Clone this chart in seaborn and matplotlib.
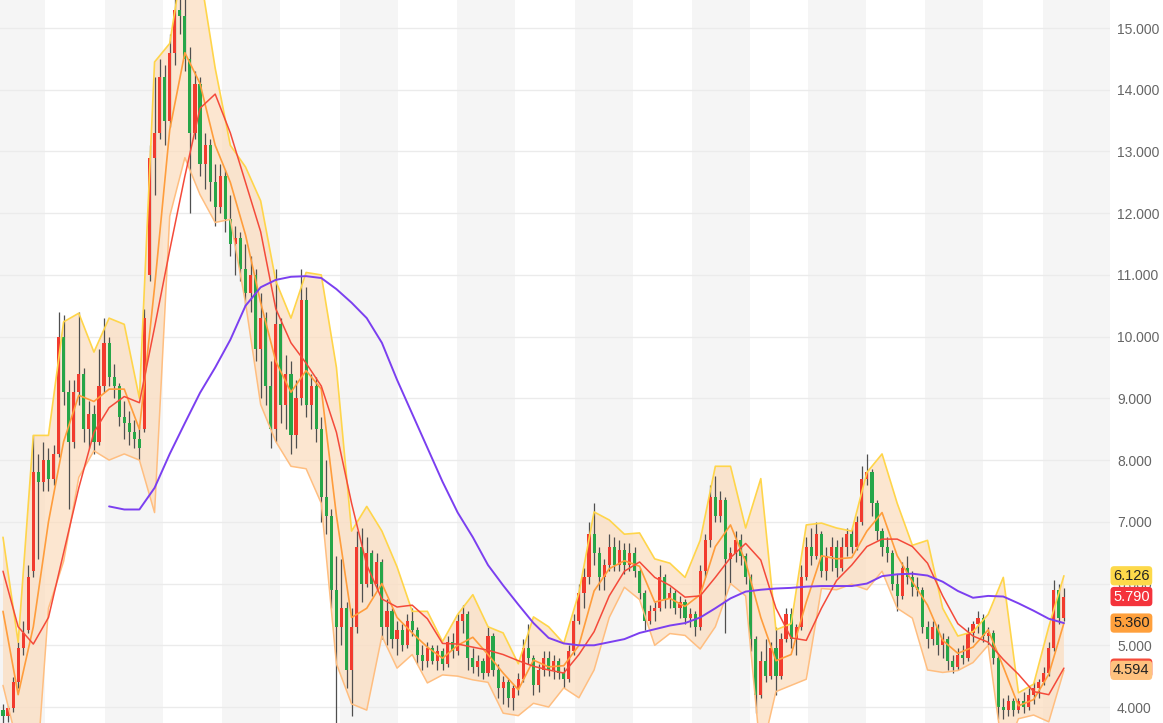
import numpy as np
import pandas as pd
import matplotlib
matplotlib.use("Agg")
import matplotlib.pyplot as plt
import seaborn as sns

# Daily candles from left to right
opens = [3.95, 3.85, 3.98, 4.40, 4.95, 5.25, 6.20, 7.80, 7.65, 8.00, 7.70, 8.10, 10.00, 9.10, 8.30, 9.10, 9.40, 8.50, 8.75, 8.30,
         9.20, 9.90, 9.35, 9.20, 8.70, 8.60, 8.45, 8.35, 8.50, 11.00, 12.90, 13.30, 14.20, 13.50, 14.60, 15.30, 15.20, 14.50, 13.30, 14.10,
         12.80, 13.10, 12.50, 12.10, 12.60, 11.90, 11.50, 11.60, 11.10, 10.70, 11.00, 9.80, 10.30, 9.20, 8.50, 10.20, 8.90, 9.40, 8.40, 9.00,
         10.60, 8.90, 9.20, 8.50, 7.40, 7.10, 5.90, 5.30, 5.60, 4.60, 5.30, 6.60, 6.00, 6.50, 6.00, 6.35, 5.30, 5.55, 5.10, 5.25,
         5.00, 5.40, 5.25, 4.85, 4.75, 4.95, 4.75, 4.90, 4.70, 5.05, 4.90, 5.40, 5.50, 4.80, 4.65, 4.75, 4.55, 5.15, 4.60, 4.30,
         4.40, 4.15, 4.30, 4.45, 4.95, 4.80, 4.35, 4.60, 4.80, 4.60, 4.75, 4.55, 4.45, 4.90, 5.40, 5.85, 6.10, 6.80, 6.50, 6.10,
         6.30, 6.60, 6.30, 6.55, 6.30, 6.50, 6.20, 5.85, 5.40, 5.55, 5.60, 6.10, 5.75, 5.85, 5.60, 5.70, 5.45, 5.50, 5.30, 6.20,
         6.70, 7.40, 7.10, 7.35, 6.40, 6.50, 6.70, 6.45, 6.10, 5.10, 4.20, 4.75, 4.50, 4.95, 4.50, 5.10, 5.50, 5.10, 5.30, 6.10,
         6.60, 6.45, 6.80, 6.20, 6.45, 6.60, 6.25, 6.60, 6.80, 6.60, 7.00, 7.70, 7.80, 7.30, 6.85, 6.60, 6.50, 6.00, 5.80, 6.25,
         6.10, 5.95, 5.90, 5.30, 5.10, 5.30, 5.00, 5.10, 4.75, 4.65, 4.85, 4.80, 5.20, 5.35, 5.45, 5.15, 5.20, 4.80, 4.00, 3.95,
         4.10, 3.95, 4.10, 4.00, 4.20, 4.30, 4.40, 4.55, 4.95, 5.90, 5.45]
highs = [4.05, 4.02, 4.48, 5.05, 5.40, 6.30, 8.40, 8.10, 8.30, 8.20, 8.25, 10.40, 10.35, 9.30, 9.30, 10.40, 9.50, 8.95, 8.90, 9.80,
         10.30, 10.00, 9.55, 9.25, 8.95, 8.80, 8.65, 8.55, 10.45, 13.10, 14.20, 14.50, 14.40, 14.90, 15.50, 15.60, 15.50, 14.70, 14.30, 14.20,
         13.30, 13.20, 12.80, 12.80, 12.70, 12.30, 11.80, 11.70, 11.50, 11.30, 11.10, 10.70, 10.40, 9.60, 11.10, 10.30, 9.70, 9.60, 9.30, 11.10,
         10.80, 9.40, 9.35, 8.70, 8.00, 7.20, 6.45, 6.40, 5.70, 5.60, 6.85, 6.90, 6.75, 6.55, 6.50, 6.40, 5.75, 5.60, 5.40, 5.35,
         5.50, 5.60, 5.30, 5.00, 5.05, 5.00, 5.00, 4.95, 5.15, 5.20, 5.50, 5.65, 5.55, 4.95, 4.85, 4.80, 5.30, 5.20, 4.70, 4.50,
         4.45, 4.35, 4.55, 5.10, 5.35, 4.85, 4.70, 4.90, 4.90, 4.85, 4.80, 4.65, 5.00, 5.50, 6.00, 6.25, 7.00, 7.30, 6.60, 6.40,
         6.80, 6.75, 6.70, 6.65, 6.65, 6.60, 6.25, 5.90, 5.65, 5.70, 6.30, 6.15, 5.95, 5.90, 5.80, 5.75, 5.60, 5.55, 6.30, 6.80,
         7.60, 7.75, 7.50, 7.40, 6.60, 6.85, 6.80, 6.50, 6.15, 5.15, 4.90, 5.10, 5.05, 5.30, 5.20, 5.60, 5.60, 5.35, 6.30, 6.75,
         6.90, 7.00, 6.85, 6.60, 6.75, 6.70, 6.75, 6.90, 6.90, 7.10, 7.90, 8.10, 7.85, 7.35, 6.90, 6.75, 6.55, 6.15, 6.35, 6.45,
         6.20, 6.10, 5.95, 5.40, 5.40, 5.35, 5.20, 5.15, 4.85, 4.95, 5.00, 5.30, 5.40, 5.55, 5.50, 5.30, 5.25, 4.85, 4.15, 4.20,
         4.15, 4.15, 4.25, 4.30, 4.40, 4.45, 4.65, 5.05, 6.05, 6.00, 5.93]
lows = [3.72, 3.75, 3.92, 4.30, 4.85, 5.20, 6.10, 6.40, 7.50, 7.50, 7.60, 8.05, 8.90, 7.20, 8.20, 8.90, 8.30, 8.20, 8.10, 8.25,
        9.10, 9.20, 9.00, 8.55, 8.35, 8.25, 8.20, 8.00, 8.45, 10.90, 12.30, 13.20, 13.10, 13.40, 14.40, 14.90, 14.30, 12.00, 13.20, 12.60,
        12.40, 12.20, 11.80, 12.00, 11.70, 11.30, 11.00, 10.90, 10.50, 10.40, 9.60, 9.00, 8.90, 8.20, 8.30, 8.60, 8.50, 8.10, 8.20, 8.90,
        8.70, 8.50, 8.30, 7.00, 6.80, 5.60, 3.60, 5.00, 4.30, 3.85, 5.20, 5.70, 5.95, 5.80, 5.90, 5.10, 5.00, 4.95, 4.85, 4.90,
        4.95, 5.15, 4.70, 4.60, 4.65, 4.70, 4.60, 4.60, 4.65, 4.80, 4.85, 5.20, 4.60, 4.55, 4.50, 4.45, 4.50, 4.50, 4.15, 4.05,
        4.00, 3.95, 4.20, 4.40, 4.70, 4.20, 4.25, 4.50, 4.50, 4.45, 4.45, 4.30, 4.40, 4.85, 5.35, 5.60, 6.00, 6.30, 5.90, 5.90,
        6.20, 6.20, 6.20, 6.15, 6.20, 6.10, 5.75, 5.25, 5.35, 5.40, 5.55, 5.60, 5.60, 5.50, 5.45, 5.35, 5.30, 5.15, 5.25, 6.10,
        6.60, 7.00, 7.00, 5.20, 6.00, 6.35, 6.30, 6.00, 4.90, 3.90, 4.15, 4.40, 4.45, 4.20, 4.45, 5.05, 4.95, 4.85, 5.25, 6.05,
        6.30, 6.40, 6.10, 6.05, 6.20, 6.10, 6.20, 6.45, 6.50, 6.55, 6.95, 7.60, 7.10, 6.70, 6.45, 6.35, 5.90, 5.55, 5.75, 6.00,
        5.80, 5.80, 5.20, 4.95, 5.00, 4.85, 4.80, 4.60, 4.55, 4.60, 4.70, 4.75, 5.05, 5.20, 5.05, 5.00, 4.70, 3.80, 3.80, 3.85,
        3.85, 3.90, 3.90, 3.95, 4.05, 4.15, 4.35, 4.50, 4.90, 5.35, 5.40]
closes = [3.85, 3.98, 4.40, 4.95, 5.20, 6.10, 7.80, 7.65, 8.00, 7.70, 8.10, 10.00, 9.10, 8.30, 9.10, 9.40, 8.50, 8.75, 8.30, 9.20,
          9.90, 9.35, 9.20, 8.70, 8.60, 8.45, 8.35, 8.20, 10.30, 12.90, 13.30, 14.20, 13.50, 14.60, 15.30, 15.20, 14.50, 13.30, 14.10, 12.80,
          13.10, 12.50, 12.10, 12.60, 11.90, 11.50, 11.60, 11.10, 10.70, 11.00, 9.80, 10.30, 9.20, 8.50, 10.20, 8.90, 9.40, 8.40, 9.00, 10.60,
          8.90, 9.20, 8.50, 7.40, 7.10, 5.90, 5.30, 5.60, 4.60, 5.30, 6.60, 6.00, 6.50, 6.00, 6.35, 5.30, 5.55, 5.10, 5.25, 5.00,
          5.40, 5.25, 4.85, 4.75, 4.95, 4.75, 4.90, 4.70, 5.05, 4.90, 5.40, 5.50, 4.80, 4.65, 4.75, 4.55, 5.15, 4.60, 4.30, 4.40,
          4.15, 4.30, 4.45, 4.95, 4.80, 4.35, 4.60, 4.80, 4.60, 4.75, 4.55, 4.45, 4.90, 5.40, 5.85, 6.10, 6.80, 6.50, 6.10, 6.30,
          6.60, 6.30, 6.55, 6.30, 6.50, 6.20, 5.85, 5.40, 5.55, 5.60, 6.10, 5.75, 5.85, 5.60, 5.70, 5.45, 5.50, 5.30, 6.20, 6.70,
          7.40, 7.10, 7.35, 6.40, 6.50, 6.70, 6.45, 6.10, 5.10, 4.20, 4.75, 4.50, 4.95, 4.50, 5.10, 5.50, 5.10, 5.30, 6.10, 6.60,
          6.45, 6.80, 6.20, 6.45, 6.60, 6.25, 6.60, 6.80, 6.60, 7.00, 7.70, 7.80, 7.30, 6.85, 6.60, 6.50, 6.00, 5.80, 6.25, 6.10,
          5.95, 5.90, 5.30, 5.10, 5.30, 5.00, 5.10, 4.75, 4.65, 4.85, 4.80, 5.20, 5.35, 5.45, 5.15, 5.20, 4.80, 4.00, 3.95, 4.10,
          3.95, 4.10, 4.00, 4.20, 4.30, 4.40, 4.55, 4.95, 5.90, 5.45, 5.79]

# Indicator lines, read at every 3rd candle
band_upper = [6.75, 5.05, 8.4, 8.4, 10.24, 10.38, 9.75, 10.3, 10.2, 9.0,
              14.45, 14.75, 16.3, 15.9, 14.35, 13.1, 12.75, 12.2, 10.9, 10.3,
              11.04, 11.0, 9.5, 6.85, 7.25, 6.85, 6.27, 5.55, 5.55, 5.06,
              5.5, 5.82, 5.3, 5.2, 4.7, 5.46, 5.3, 5.03, 5.85, 7.16,
              7.03, 6.8, 6.82, 6.4, 6.33, 6.1, 6.7, 7.9, 7.9, 6.9,
              7.7, 5.25, 5.35, 6.95, 6.98, 6.9, 6.85, 7.8, 8.1, 7.3,
              6.62, 6.7, 5.6, 5.15, 5.22, 5.5, 6.1, 4.23, 4.37, 5.3,
              6.126]
band_mid = [5.55, 4.2, 5.3, 7.0, 8.3, 9.05, 8.95, 9.15, 9.15, 8.5,
            10.8, 13.35, 14.6, 14.1, 13.1, 12.5, 11.65, 10.55, 9.6, 9.1,
            9.45, 9.15, 7.1, 5.45, 5.6, 6.0, 5.45, 5.2, 4.97, 4.79,
            5.0, 5.13, 4.85, 4.55, 4.28, 4.76, 4.65, 4.67, 5.0, 5.88,
            6.24, 6.37, 6.28, 5.7, 5.76, 5.63, 5.82, 6.6, 6.95, 6.35,
            5.45, 4.75, 4.85, 5.7, 6.45, 6.4, 6.42, 6.85, 7.15, 6.45,
            6.03, 5.65, 5.08, 4.87, 4.97, 5.25, 4.65, 4.02, 4.12, 4.53,
            5.36]
band_lower = [4.35, 3.35, 2.2, 5.6, 6.36, 7.72, 8.15, 8.0, 8.1, 8.0,
              7.15, 11.95, 12.9, 12.3, 11.85, 11.9, 10.55, 8.9, 8.3, 7.9,
              7.86, 7.3, 4.7, 4.05, 3.95, 5.15, 4.63, 4.85, 4.39, 4.52,
              4.5, 4.44, 4.4, 3.9, 3.86, 4.06, 4.0, 4.31, 4.15, 4.6,
              5.45, 5.94, 5.74, 5.0, 5.19, 5.16, 4.94, 5.3, 6.0, 5.8,
              3.2, 4.25, 4.35, 4.45, 5.92, 5.9, 5.99, 5.9, 6.2, 5.6,
              5.44, 4.6, 4.56, 4.59, 4.72, 5.0, 3.2, 3.81, 3.87, 3.76,
              4.594]
ma_mid = [6.2, 5.3, 5.02, 5.45, 6.5, 7.55, 8.45, 8.85, 9.03, 8.93,
          10.15, 11.4, 12.6, 13.7, 13.93, 13.3, 12.5, 11.7, 10.45, 9.9,
          9.57, 9.2, 8.45, 7.3, 6.3, 5.75, 5.62, 5.65, 5.43, 5.03,
          5.02, 4.97, 4.92, 4.85, 4.75, 4.66, 4.6, 4.55, 4.85, 5.22,
          5.8, 6.2, 6.35, 6.1, 5.97, 5.78, 5.8, 6.1, 6.42, 6.65,
          6.38, 5.6, 5.12, 5.08, 5.6, 6.05, 6.3, 6.6, 6.72, 6.72,
          6.6, 6.33, 5.8, 5.35, 5.15, 5.05, 4.77, 4.53, 4.25, 4.2,
          4.63]
ma_long = [None] * 7 + [7.25, 7.2, 7.2, 7.55, 8.1, 8.6, 9.09, 9.5, 9.95, 10.5,
                        10.8, 10.92, 10.97, 10.98, 10.95, 10.77, 10.55, 10.3, 9.9, 9.3,
                        8.75, 8.2, 7.65, 7.15, 6.75, 6.3, 5.97, 5.66, 5.36, 5.12,
                        5.03, 5.0, 5.0, 5.05, 5.1, 5.2, 5.26, 5.32, 5.36, 5.45,
                        5.6, 5.76, 5.87, 5.9, 5.92, 5.93, 5.95, 5.96, 5.96, 5.96,
                        6.0, 6.12, 6.15, 6.16, 6.13, 6.03, 5.88, 5.77, 5.8, 5.79,
                        5.68, 5.56, 5.43, 5.36]

# month boundaries (candle positions) for the alternating background
month_edges = [-3.1, 8.4, 20.2, 31.7, 43.4, 54.8, 66.7, 78.2, 89.9, 101.4,
               113.2, 124.7, 136.4, 147.9, 159.3, 170.8, 182.5, 194.0, 205.9, 219.2]

df = pd.DataFrame({'open': opens, 'high': highs, 'low': lows, 'close': closes})
df['pos'] = np.arange(len(df))
lines = pd.DataFrame({'pos': np.arange(0, len(df), 3), 'upper': band_upper, 'mid': band_mid,
                      'lower': band_lower, 'ma': ma_mid, 'long': ma_long}).astype(float)

RED = '#f23b2e'
GREEN = '#26a648'

sns.set_theme(style='white')
plt.rcParams['font.family'] = ['Liberation Sans', 'DejaVu Sans']

fig = plt.figure(figsize=(11.63, 7.23), dpi=100)
ax = fig.add_axes([0, 0, 1110 / 1163, 1])

# background stripes
for a, b in zip(month_edges[0::2], month_edges[1::2]):
    ax.axvspan(a, b, color='#f5f5f5', zorder=0, linewidth=0)

# bollinger fill
ax.fill_between(lines['pos'], lines['lower'], lines['upper'], color='#fcdcbd', alpha=0.7,
                linewidth=0, zorder=1)

# candles
up = df['close'] >= df['open']
body = (df['close'] - df['open']).abs().clip(lower=0.03)
ax.vlines(df['pos'], df['low'], df['high'], color='#4f4f4f', linewidth=0.9, zorder=3)
ax.bar(df['pos'], body, bottom=df[['open', 'close']].min(axis=1), width=0.62,
       color=np.where(up, RED, GREEN), linewidth=0, zorder=4)

# lines
sns.lineplot(data=lines, x='pos', y='lower', ax=ax, color='#ffbe80', linewidth=1.1, zorder=5)
sns.lineplot(data=lines, x='pos', y='mid', ax=ax, color='#ff9d3c', linewidth=1.2, zorder=5)
sns.lineplot(data=lines, x='pos', y='upper', ax=ax, color='#ffd54a', linewidth=1.2, zorder=5)
sns.lineplot(data=lines, x='pos', y='ma', ax=ax, color='#f44a3a', linewidth=1.1, zorder=6)
sns.lineplot(data=lines.dropna(), x='pos', y='long', ax=ax, color='#7b3ff0', linewidth=1.4, zorder=6)

ax.set_xlim(-0.594, 219.12)
ax.set_ylim(3.741, 15.454)
ax.set_xlabel('')
ax.set_ylabel('')
ax.set_xticks([])
ax.set_yticks(np.arange(4, 16))
ax.yaxis.set_major_formatter(plt.FormatStrFormatter('%.3f'))
ax.yaxis.tick_right()
ax.tick_params(axis='y', length=0, pad=5, labelsize=10, labelcolor='#666666')
ax.yaxis.grid(True, color='#ebebeb', linewidth=1)
ax.set_axisbelow(True)
for s in ax.spines.values():
    s.set_visible(False)

# last-value tags on the price axis
tags = [(ma_mid[-1], '#f44a3a', 'white'),
        (band_lower[-1], '#ffc27e', '#222222'),
        (band_mid[-1], '#ffa03c', '#222222'),
        (closes[-1], '#f4333b', 'white'),
        (band_upper[-1], '#fdd94a', '#222222')]
trans = ax.get_yaxis_transform()
for val, bg, fg in tags:
    ax.text(1.0028, val, f'{val:.3f}', transform=trans, ha='left', va='center',
            fontsize=10.5, color=fg, clip_on=False, zorder=10,
            bbox=dict(boxstyle='round,pad=0.18,rounding_size=0.25', fc=bg, ec='none'))

fig.savefig('out.png', dpi=100)
